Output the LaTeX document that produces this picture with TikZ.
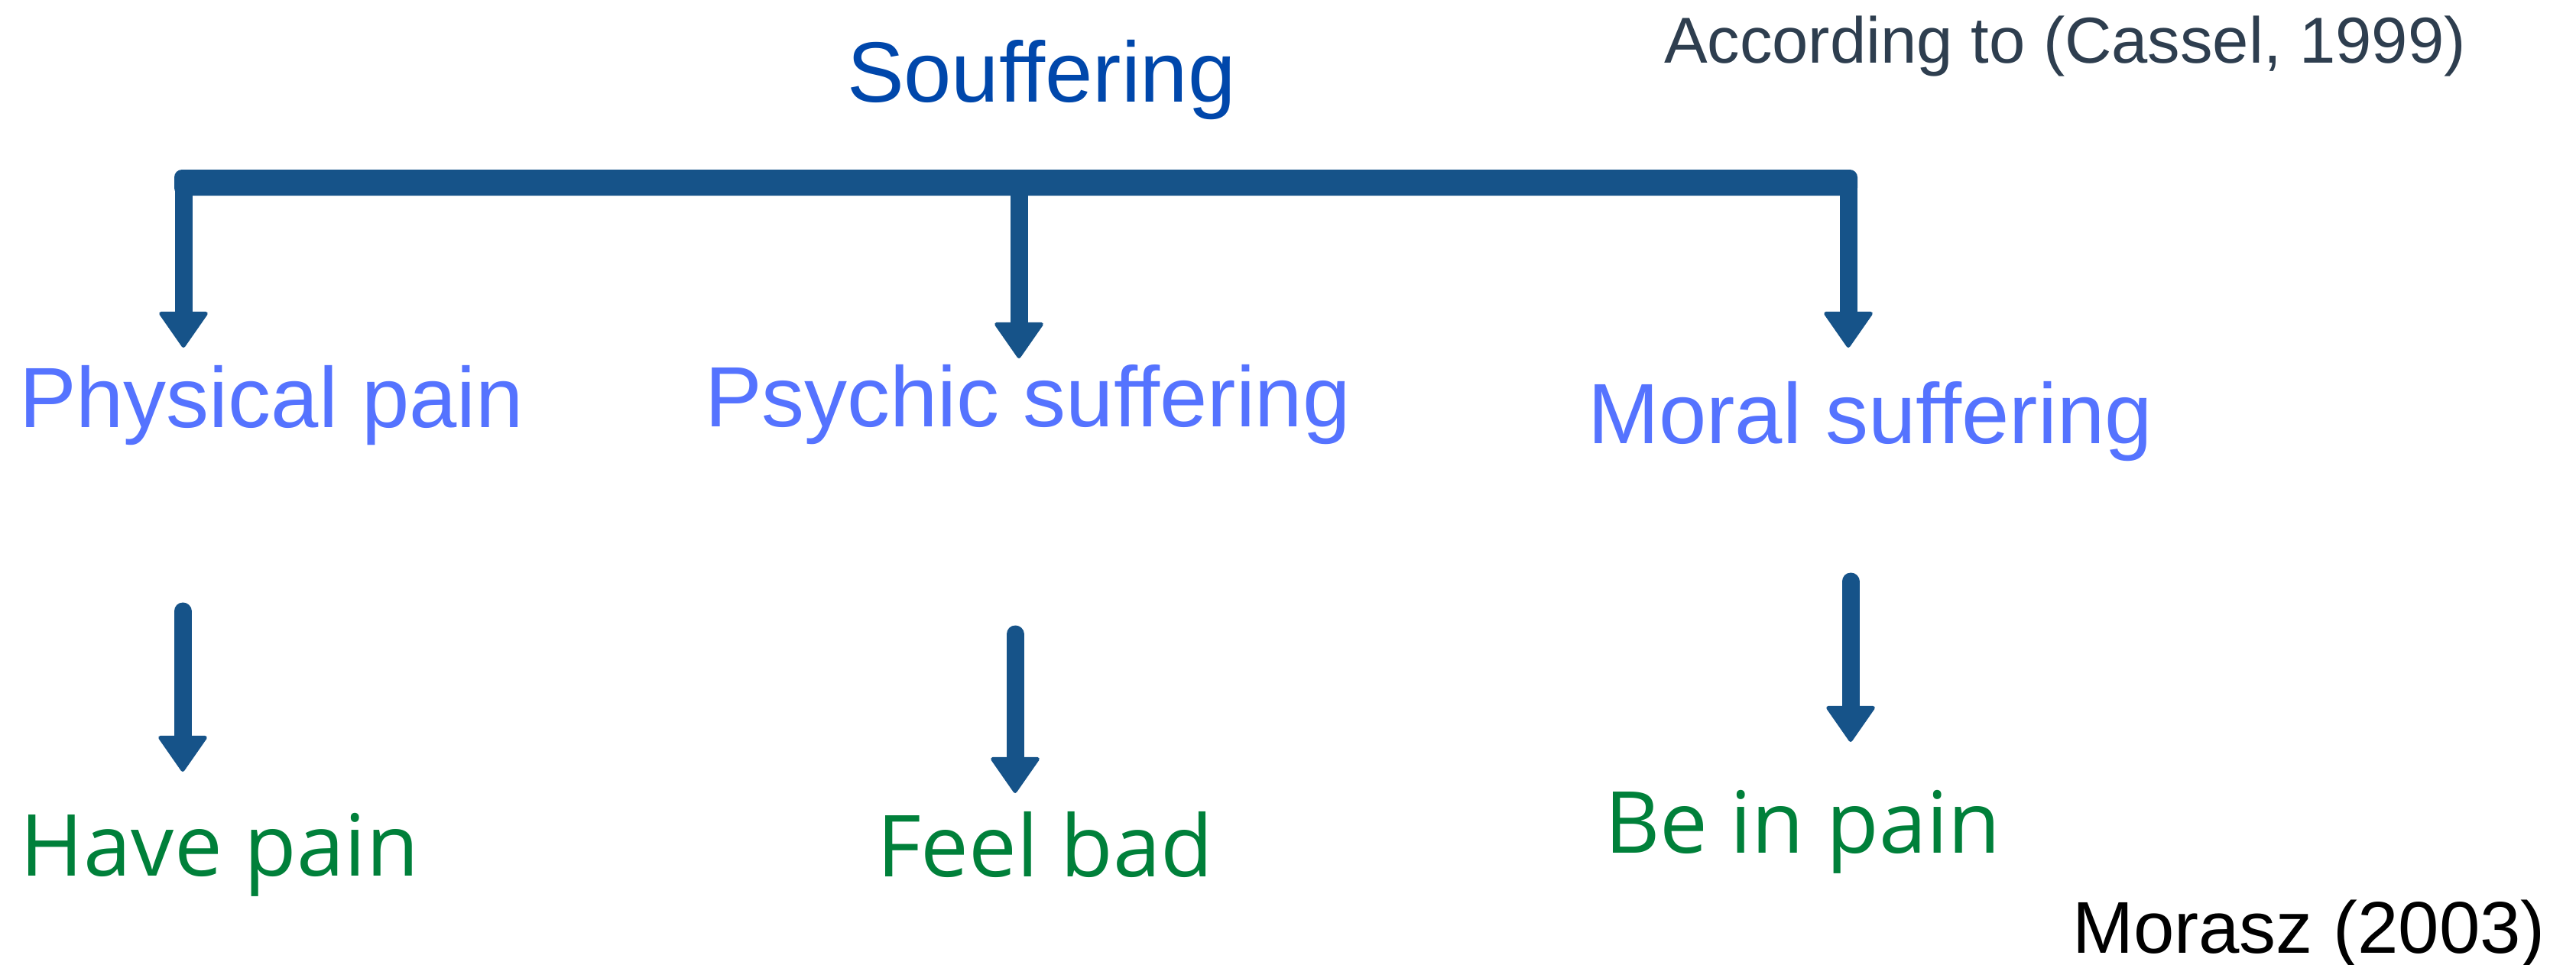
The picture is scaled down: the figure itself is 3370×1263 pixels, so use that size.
\documentclass[tikz,border=0pt]{standalone}
\usepackage{fontspec}
\setmainfont{Liberation Sans}
\newfontfamily\opensans{Open Sans}
\usetikzlibrary{arrows.meta}
\definecolor{arrowblue}{HTML}{165389}
\definecolor{titleblue}{HTML}{0047AB}
\definecolor{midblue}{HTML}{5573FF}
\definecolor{leafgreen}{HTML}{00803A}
\definecolor{slate}{HTML}{2E3E4F}
\tikzset{
  lbl/.style={anchor=base west, inner sep=0pt, outer sep=0pt},
  titletext/.style={lbl, text=titleblue, font=\fontsize{112}{130}\selectfont},
  citetext/.style={lbl, text=slate, font=\fontsize{85}{100}\selectfont},
  cattext/.style={lbl, text=midblue, font=\fontsize{112}{130}\selectfont},
  leaftext/.style={lbl, text=leafgreen, font=\opensans\fontsize{112}{130}\selectfont},
  authortext/.style={lbl, text=black, font=\fontsize{96}{110}\selectfont},
  bigarrow/.style={draw=arrowblue, line width=23pt,
    -{Triangle[width=67pt,length=49pt,round,line width=5pt]}},
  smallarrow/.style={bigarrow, line cap=round},
}
\begin{document}
\begin{tikzpicture}[x=1pt,y=-1pt]
\useasboundingbox (0,0) rectangle (3370,1263);
% texts
\node[titletext] (souf) at (1108,133) {Souffering};
\node[citetext] (cite) at (2177,82) {According to (Cassel, 1999)};
\node[cattext] (phys) at (25,559) {Physical pain};
\node[cattext] (psych) at (922,558) {Psychic suffering};
\node[cattext] (moral) at (2077,580) {Moral suffering};
\node[leaftext] (have) at (27,1146) {Have pain};
\node[leaftext] (feel) at (1147,1147) {Feel bad};
\node[leaftext] (bein) at (2099,1116) {Be in pain};
\node[authortext] (morasz) at (2711,1247) {Morasz (2003)};
% bar
\coordinate (barTL) at (228,222);
\coordinate (barBR) at (2430,256);
\fill[arrowblue, rounded corners=10pt] (barTL) rectangle (barBR);
\coordinate (b1) at (240,239);
\coordinate (b2) at (1333,239);
\coordinate (b3) at (2418,239);
\coordinate (t1) at (240,455);
\coordinate (t2) at (1333,469);
\coordinate (t3) at (2418,455);
\draw[bigarrow] (b1) -- (t1);
\draw[bigarrow] (b2) -- (t2);
\draw[bigarrow] (b3) -- (t3);
% second row arrows
\coordinate (s1) at (239,800);
\coordinate (e1) at (239,1010);
\coordinate (s2) at (1328,830);
\coordinate (e2) at (1328,1038);
\coordinate (s3) at (2421,761);
\coordinate (e3) at (2421,971);
\draw[smallarrow] (s1) -- (e1);
\draw[smallarrow] (s2) -- (e2);
\draw[smallarrow] (s3) -- (e3);
\end{tikzpicture}
\end{document}
